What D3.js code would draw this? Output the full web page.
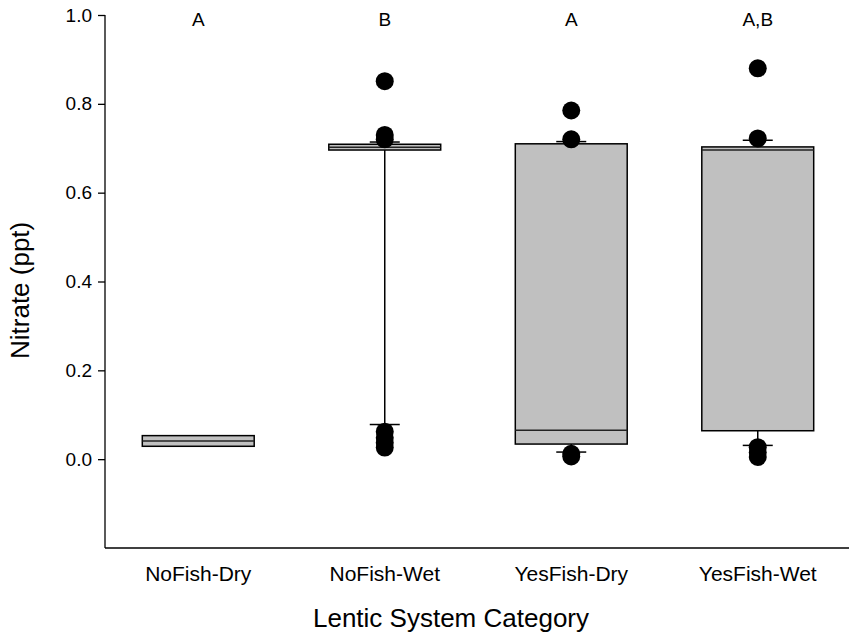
<!DOCTYPE html>
<html>
<head>
<meta charset="utf-8">
<script src="https://cdn.jsdelivr.net/npm/d3@7"></script>
<style>
  html, body { margin: 0; padding: 0; background: #fff; }
  svg { display: block; font-family: "Liberation Sans", Arial, sans-serif; }
</style>
</head>
<body>
<svg id="chart" width="849" height="635"></svg>
<script>
// Nitrate by lentic system category: box summaries and outlying points
const categories = ["NoFish-Dry", "NoFish-Wet", "YesFish-Dry", "YesFish-Wet"];
const q1      = [0.029, 0.696, 0.034, 0.064];
const medians = [0.041, 0.702, 0.065, 0.696];
const q3      = [0.053, 0.709, 0.710, 0.703];
const whiskerLow  = [null, 0.078, 0.016, 0.031];
const whiskerHigh = [null, 0.714, 0.715, 0.718];
const outliers = [
  [],
  [0.851, 0.730, 0.720, 0.062, 0.048, 0.037, 0.026],
  [0.785, 0.720, 0.012, 0.006],
  [0.880, 0.722, 0.027, 0.015, 0.005]
];
const groupLetters = ["A", "B", "A", "A,B"];
const yTicks = [0.0, 0.2, 0.4, 0.6, 0.8, 1.0];

const svg = d3.select("#chart");
const plotLeft = 105, plotRight = 851, plotTop = 15, plotBottom = 548;
const fontFamily = "Liberation Sans, Arial, sans-serif";

const x = d3.scaleBand().domain(categories).range([plotLeft, plotRight]).padding(0);
const y = d3.scaleLinear().domain([-0.2, 1.0]).range([plotBottom, plotTop]);

const boxW = x.bandwidth() * 0.6;
const capW = 30;

// Axes
const yAxis = svg.append("g")
  .attr("transform", `translate(${plotLeft},0)`)
  .call(d3.axisLeft(y).tickValues(yTicks).tickFormat(d3.format(".1f")).tickSize(7).tickPadding(6));
yAxis.select(".domain").attr("stroke", "#000").attr("stroke-width", 1.3)
  .attr("d", `M0,${y(1.0)}V${plotBottom}`);
yAxis.selectAll(".tick line").attr("stroke", "#000").attr("stroke-width", 1.3);
yAxis.selectAll(".tick text").attr("font-size", 19).attr("fill", "#000")
  .attr("font-family", fontFamily);

const xAxis = svg.append("g")
  .attr("transform", `translate(0,${plotBottom})`)
  .call(d3.axisBottom(x).tickSize(0).tickPadding(18));
xAxis.select(".domain").attr("stroke", "#000").attr("stroke-width", 1.3)
  .attr("d", `M${plotLeft},0H${plotRight}`);
xAxis.selectAll(".tick text").attr("font-size", 21).attr("fill", "#000")
  .attr("font-family", fontFamily);

// Axis titles
svg.append("text")
  .attr("x", 451).attr("y", 627)
  .attr("text-anchor", "middle").attr("font-size", 26).attr("font-family", fontFamily)
  .text("Lentic System Category");
svg.append("text")
  .attr("transform", `translate(29,${y(0.38)}) rotate(-90)`)
  .attr("text-anchor", "middle").attr("font-size", 26).attr("font-family", fontFamily)
  .text("Nitrate (ppt)");

// Boxes
const groups = svg.append("g").selectAll("g")
  .data(categories.map((c, i) => ({ c, i })))
  .join("g");

groups.each(function ({ c, i }) {
  const g = d3.select(this);
  const cx = x(c) + x.bandwidth() / 2;

  if (whiskerLow[i] !== null) {
    g.append("line").attr("x1", cx).attr("x2", cx)
      .attr("y1", y(q1[i])).attr("y2", y(whiskerLow[i]))
      .attr("stroke", "#000").attr("stroke-width", 1.5);
    g.append("line").attr("x1", cx - capW / 2).attr("x2", cx + capW / 2)
      .attr("y1", y(whiskerLow[i])).attr("y2", y(whiskerLow[i]))
      .attr("stroke", "#000").attr("stroke-width", 1.5);
  }
  if (whiskerHigh[i] !== null) {
    g.append("line").attr("x1", cx).attr("x2", cx)
      .attr("y1", y(q3[i])).attr("y2", y(whiskerHigh[i]))
      .attr("stroke", "#000").attr("stroke-width", 1.5);
    g.append("line").attr("x1", cx - capW / 2).attr("x2", cx + capW / 2)
      .attr("y1", y(whiskerHigh[i])).attr("y2", y(whiskerHigh[i]))
      .attr("stroke", "#000").attr("stroke-width", 1.5);
  }

  g.append("rect")
    .attr("x", cx - boxW / 2).attr("width", boxW)
    .attr("y", y(q3[i])).attr("height", y(q1[i]) - y(q3[i]))
    .attr("fill", "#c0c0c0").attr("stroke", "#000").attr("stroke-width", 1.5);
  g.append("line")
    .attr("x1", cx - boxW / 2).attr("x2", cx + boxW / 2)
    .attr("y1", y(medians[i])).attr("y2", y(medians[i]))
    .attr("stroke", "#222").attr("stroke-width", 1.5);

  g.selectAll("circle").data(outliers[i]).join("circle")
    .attr("cx", cx).attr("cy", d => y(d)).attr("r", 9)
    .attr("fill", "#000");

  g.append("text")
    .attr("x", cx).attr("y", 26)
    .attr("text-anchor", "middle").attr("font-size", 19).attr("font-family", fontFamily)
    .text(groupLetters[i]);
});
</script>
</body>
</html>
